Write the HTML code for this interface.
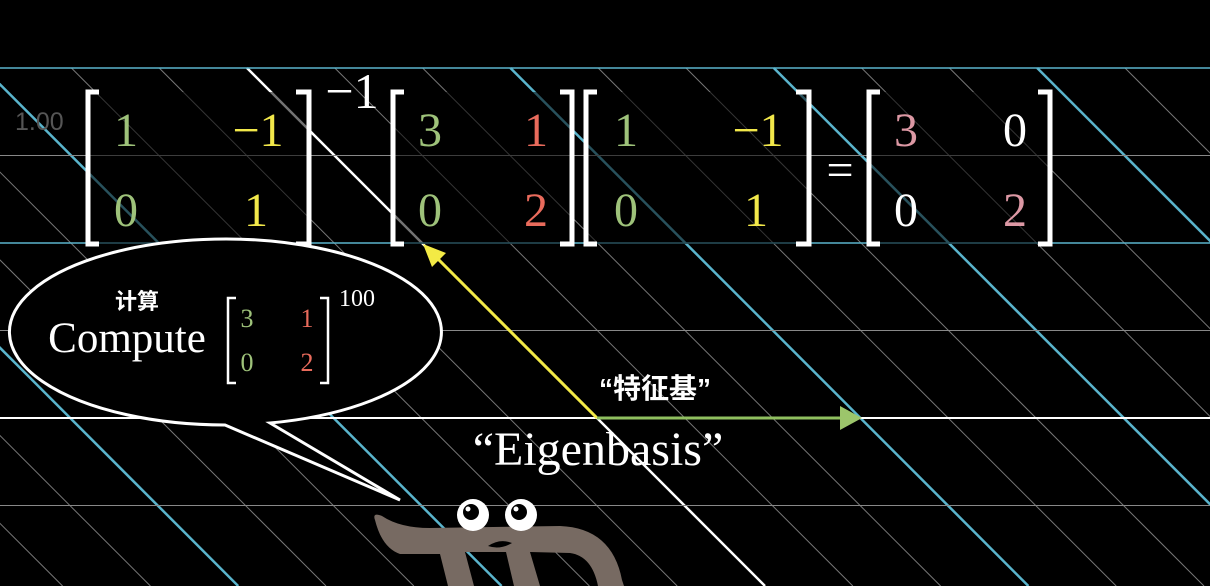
<!DOCTYPE html>
<html><head><meta charset="utf-8">
<style>
html,body{margin:0;padding:0;background:#000;width:1210px;height:586px;overflow:hidden}
svg{display:block}
.ser{font-family:"Liberation Serif","Noto Serif CJK SC",serif}
</style></head>
<body>
<svg id="s" width="1210" height="586" viewBox="0 0 1210 586">
<rect width="1210" height="586" fill="#000"/>
<g id="grid"></g>

<text x="15" y="130" font-family="Liberation Sans,sans-serif" font-size="25" fill="#555">1.00</text>

<g>
<line x1="597" y1="418" x2="437" y2="258" stroke="#f3ea45" stroke-width="3"/>
<polygon points="423,244 446,253 432,267" fill="#f3ea45"/>
<line x1="597" y1="418" x2="845" y2="418" stroke="#8fbf5f" stroke-width="3"/>
<polygon points="862,418 840,406 840,430" fill="#9cc56b"/>
</g>

<g fill="#000" fill-opacity="0.55">
<rect x="88" y="92" width="221" height="152"/>
<rect x="393" y="92" width="179" height="152"/>
<rect x="586" y="92" width="223" height="152"/>
<rect x="869" y="92" width="181" height="152"/>
</g>

<g class="ser" font-size="48" text-anchor="middle">
<g fill="none" stroke="#fff" stroke-width="5">
<path d="M99,92 H88 V244 H99"/><path d="M296,92 H309 V244 H296"/>
<path d="M404,92 H393 V244 H404"/><path d="M560,92 H572 V244 H560"/>
<path d="M597,92 H586 V244 H597"/><path d="M796,92 H809 V244 H796"/>
<path d="M880,92 H869 V244 H880"/><path d="M1038,92 H1050 V244 H1038"/>
</g>
<text x="126" y="146" fill="#9ec27a">1</text><text x="258" y="146" fill="#f2e84a">−1</text>
<text x="126" y="226" fill="#9ec27a">0</text><text x="256" y="226" fill="#f2e84a">1</text>
<text x="352" y="108" fill="#fff" font-size="50">−1</text>
<text x="430" y="146" fill="#9ec27a">3</text><text x="536" y="146" fill="#e96b5c">1</text>
<text x="430" y="226" fill="#9ec27a">0</text><text x="536" y="226" fill="#e96b5c">2</text>
<text x="626" y="146" fill="#9ec27a">1</text><text x="758" y="146" fill="#f2e84a">−1</text>
<text x="626" y="226" fill="#9ec27a">0</text><text x="756" y="226" fill="#f2e84a">1</text>
<text x="840" y="186" fill="#fff">=</text>
<text x="906" y="146" fill="#dc98a4">3</text><text x="1015" y="146" fill="#fff">0</text>
<text x="906" y="226" fill="#fff">0</text><text x="1015" y="226" fill="#dc98a4">2</text>
</g>

<g>
<path d="M225,425 A216,93 0 1 1 270,423 L400,500 Z" fill="#000" stroke="#fff" stroke-width="3" stroke-linejoin="miter"/>
<text x="137" y="309" font-family="Liberation Sans,Noto Sans CJK SC,sans-serif" font-weight="bold" font-size="22" fill="#fff" text-anchor="middle">计算</text>
<text x="127" y="352" class="ser" font-size="43" fill="#fff" text-anchor="middle">Compute</text>
<g fill="none" stroke="#fff" stroke-width="2.5"><path d="M236,298 H228 V383 H236"/><path d="M320,298 H328 V383 H320"/></g>
<g class="ser" font-size="26" text-anchor="middle">
<text x="247" y="327" fill="#9ec27a">3</text><text x="307" y="327" fill="#e96b5c">1</text>
<text x="247" y="371" fill="#9ec27a">0</text><text x="307" y="371" fill="#e96b5c">2</text>
<text x="357" y="306" fill="#fff" font-size="24">100</text>
</g>
</g>

<text x="655" y="398" font-family="Liberation Sans,Noto Sans CJK SC,sans-serif" font-weight="bold" font-size="28" fill="#fff" text-anchor="middle">“特征基”</text>
<text x="598" y="465" class="ser" font-size="48" fill="#fff" text-anchor="middle">“Eigenbasis”</text>

<g>
<path d="M375,520 Q372,512 382,516 Q400,528 430,528 L560,526 Q612,528 622,580 L624,586 L598,586 Q592,556 570,553 L530,552 L540,586 L514,586 L506,552 L465,552 L474,586 L448,586 L440,554 L400,554 Q382,548 375,520 Z" fill="#776a62"/>
<path d="M488,546 Q500,538 512,543 Q500,550 488,546 Z" fill="#000"/>
<circle cx="473" cy="515" r="16" fill="#fff"/><circle cx="521" cy="515" r="16" fill="#fff"/>
<circle cx="471" cy="512" r="8" fill="#000"/><circle cx="519" cy="512" r="8" fill="#000"/>
<circle cx="468" cy="509" r="2.5" fill="#fff"/><circle cx="516" cy="509" r="2.5" fill="#fff"/>
</g>
</svg>
<script>
// grid: horizontal lines (units above/below x-axis), diagonal lines (units)
const hUnits = [-4, -3, -2, -1, 0, 1];
const dUnits = [-12, -11, -10, -9, -8, -7, -6, -5, -4, -3, -2, -1, 0, 1, 2, 3, 4, 5, 6, 7, 8, 9, 10, 11, 12];
const ox = 597, oy = 418, hStep = 87.5, dStep = 87.8;
const g = document.getElementById('grid');
const NS = 'http://www.w3.org/2000/svg';
function line(x1, y1, x2, y2, c, w) {
  const l = document.createElementNS(NS, 'line');
  l.setAttribute('x1', x1); l.setAttribute('y1', y1);
  l.setAttribute('x2', x2); l.setAttribute('y2', y2);
  l.setAttribute('stroke', c); l.setAttribute('stroke-width', w);
  g.appendChild(l);
  return l;
}
dUnits.forEach(k => {
  const x0 = ox + k * dStep;
  let c = '#777', w = 1;
  if (k === 0) { c = '#fff'; w = 2.5; } else if (k % 3 === 0) { c = '#5ab4cc'; w = 2.5; }
  const l = line(x0 - (oy - 68), 68, x0 + (586 - oy), 586, c, w);
  
  
});
hUnits.forEach(u => {
  const y = oy + u * hStep;
  let c = '#888', w = 1;
  if (u === 0) { c = '#fff'; w = 2; } else if (u % 2 === 0) { c = '#5ab4cc'; w = 1.5; }
  const l = line(0, y, 1210, y, c, w);
  
  
});
</script>
</body></html>
